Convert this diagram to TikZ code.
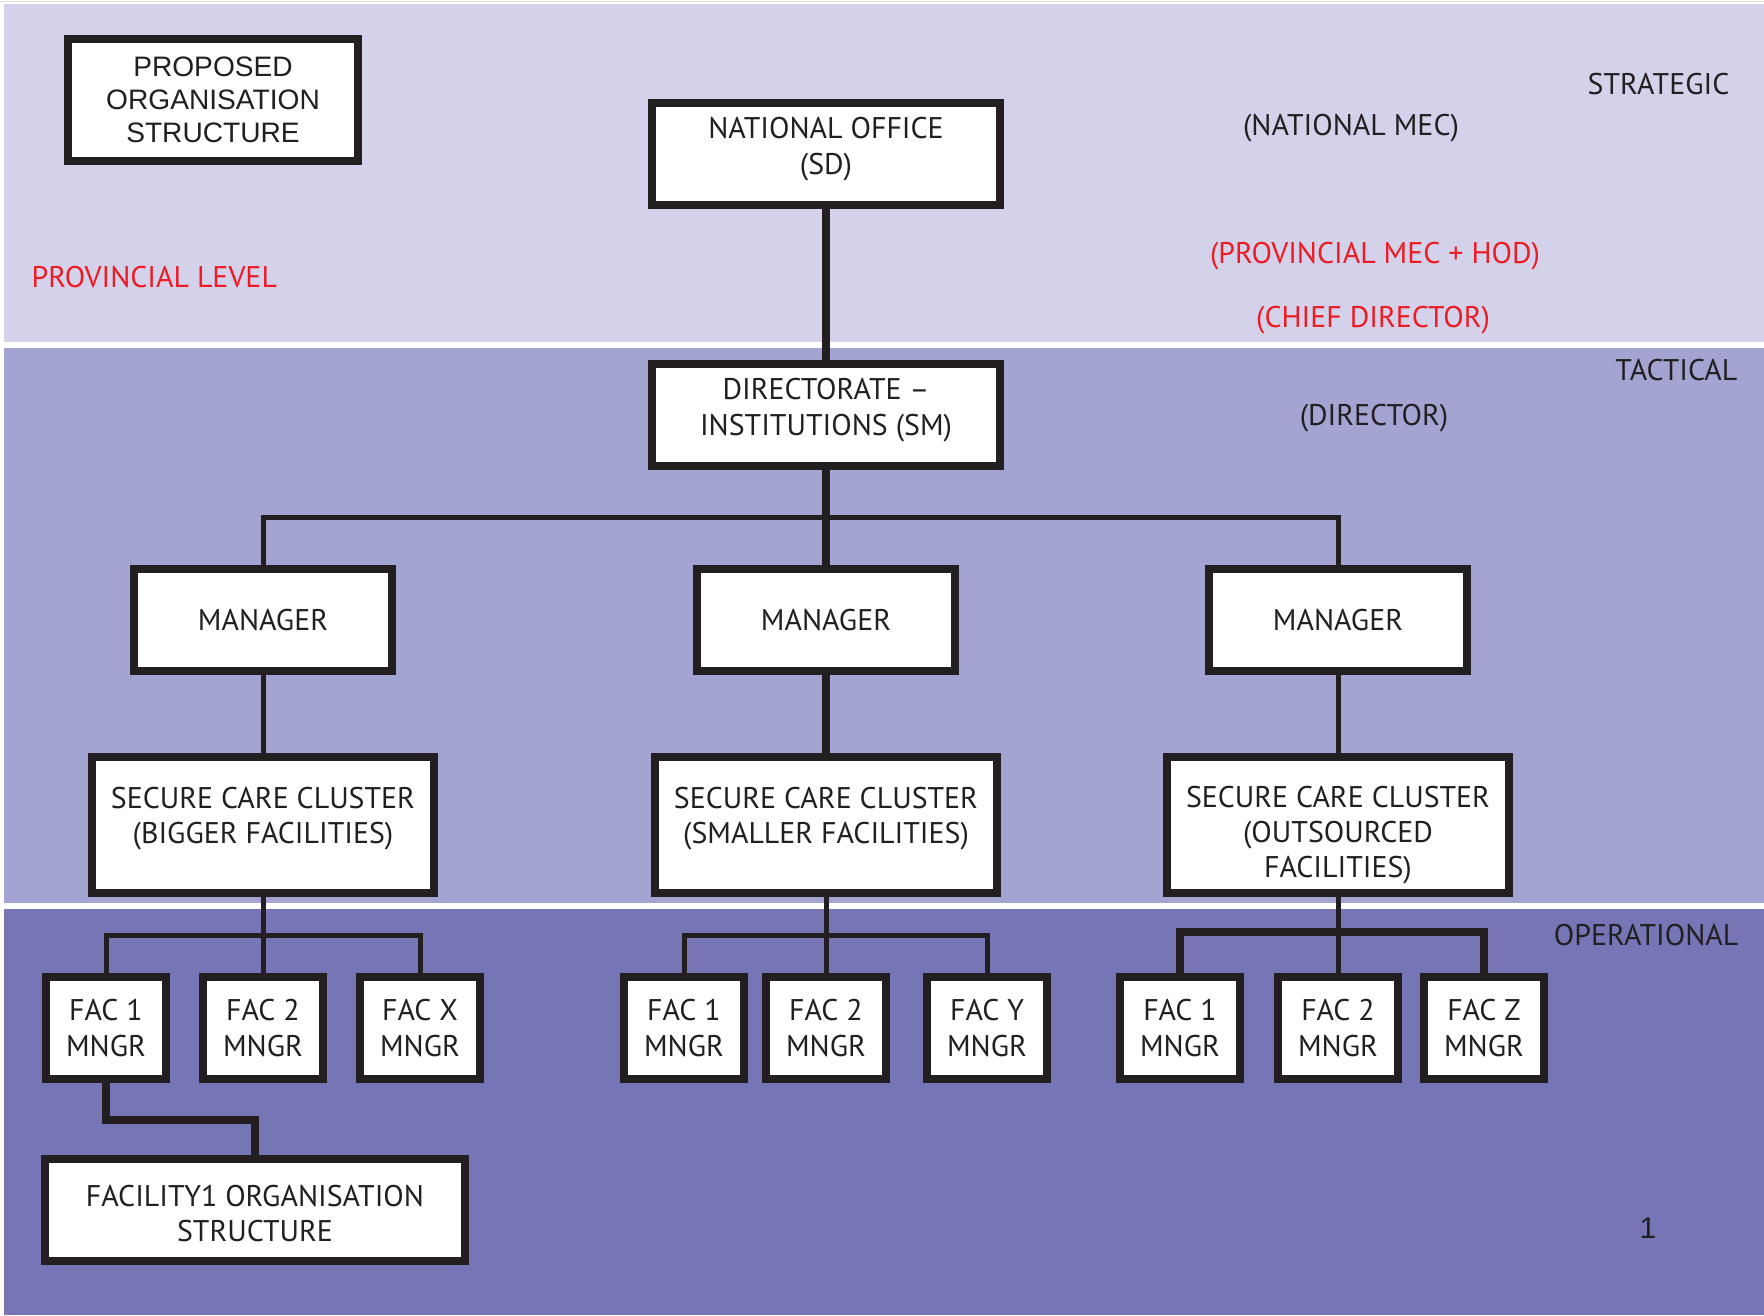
\documentclass[tikz,border=0pt]{standalone}
\usepackage{fontspec}
\setmainfont{PT Sans}
\newfontfamily\arialfont{Liberation Sans}
\usetikzlibrary{calc}
\definecolor{bandtop}{HTML}{D3D2EA}
\definecolor{bandmid}{HTML}{A4A4D2}
\definecolor{bandlow}{HTML}{7675B5}
\definecolor{inkred}{HTML}{ED1C24}
\definecolor{ink}{HTML}{231F20}
% move box text up or down, keep the box size
\newcommand{\shifted}[2]{\raisebox{#1}[\height][\depth]{\begin{tabular}{@{}c@{}}#2\end{tabular}}}

\begin{document}
\begin{tikzpicture}[x=0.01cm, y=-0.01cm,
  box/.style={draw=ink, fill=white, line width=0.08cm, align=center, inner sep=0pt,
    text=ink, font=\fontsize{8.5}{10}\selectfont},
  topbox/.style={box, minimum width=3.47cm, minimum height=1.02cm},
  mgrbox/.style={box, minimum width=2.57cm, minimum height=1.01cm},
  clbox/.style={box, minimum width=3.41cm, minimum height=1.36cm},
  facbox/.style={box, minimum width=1.20cm, minimum height=1.02cm},
  lvl/.style={text=ink, inner sep=0pt, font=\fontsize{8.5}{10}\selectfont},
  redlvl/.style={lvl, text=inkred},
  thickln/.style={draw=ink, line width=0.08cm},
  thinln/.style={draw=ink, line width=0.05cm}]
\useasboundingbox (0,0) rectangle (1764,1315);
% bands
\fill[white] (0,0) rectangle (1764,1315);
\draw[ink!15, line width=0.015cm] (0,1.5) -- (1764,1.5);
\fill[bandtop] (4,4) rectangle (1764,342);
\fill[bandmid] (4,348) rectangle (1764,903);
\fill[bandlow] (4,909) rectangle (1764,1315);

% level labels
\node[lvl, anchor=east] (strat) at (1730,84) {STRATEGIC};
\node[lvl, anchor=east] (tact) at (1738,370) {TACTICAL};
\node[lvl, anchor=east] (oper) at (1739,935) {OPERATIONAL};
\node[lvl] (natmec) at (1351,128) {(NATIONAL MEC)};
\node[redlvl] (provmec) at (1375,256) {(PROVINCIAL MEC + HOD)};
\node[redlvl] (chief) at (1373,320) {(CHIEF DIRECTOR)};
\node[lvl] (director) at (1374,418) {(DIRECTOR)};
\node[redlvl, anchor=west] (provlvl) at (31,277) {PROVINCIAL LEVEL};
\node[lvl, font=\arialfont\fontsize{8.5}{10}\selectfont] (pagenum) at (1648,1228) {1};

% boxes
\node[box, minimum width=2.90cm, minimum height=1.21cm, font=\arialfont\fontsize{8}{9.4}\selectfont]
  (proposed) at (213,100) {PROPOSED\\ORGANISATION\\STRUCTURE};
\node[topbox] (nat) at (826,154) {\shifted{1.3pt}{NATIONAL OFFICE\\(SD)}};
\node[topbox] (dir) at (826,415) {\shifted{1.3pt}{DIRECTORATE --\\INSTITUTIONS (SM)}};
\node[mgrbox] (mgr1) at (263,620) {MANAGER};
\node[mgrbox] (mgr2) at (826,620) {MANAGER};
\node[mgrbox] (mgr3) at (1338,620) {MANAGER};
\node[clbox] (cl1) at (263,825) {\shifted{1.7pt}{SECURE CARE CLUSTER\\(BIGGER FACILITIES)}};
\node[clbox] (cl2) at (826,825) {\shifted{1.7pt}{SECURE CARE CLUSTER\\(SMALLER FACILITIES)}};
\node[clbox] (cl3) at (1338,825) {\shifted{-3pt}{SECURE CARE CLUSTER\\(OUTSOURCED\\FACILITIES)}};
\node[facbox] (f11) at (106,1028) {FAC 1\\MNGR};
\node[facbox] (f12) at (263,1028) {FAC 2\\MNGR};
\node[facbox] (f13) at (420,1028) {FAC X\\MNGR};
\node[facbox] (f21) at (684,1028) {FAC 1\\MNGR};
\node[facbox] (f22) at (826,1028) {FAC 2\\MNGR};
\node[facbox] (f23) at (987,1028) {FAC Y\\MNGR};
\node[facbox] (f31) at (1180,1028) {FAC 1\\MNGR};
\node[facbox] (f32) at (1338,1028) {FAC 2\\MNGR};
\node[facbox] (f33) at (1484,1028) {FAC Z\\MNGR};
\node[box, minimum width=4.19cm, minimum height=1.02cm] (facorg) at (255,1210)
  {\shifted{-2pt}{FACILITY1 ORGANISATION\\STRUCTURE}};

% connectors
\coordinate (busmgr) at (826,517);
\coordinate (busl) at (263,935);
\coordinate (busm) at (826,935);
\coordinate (busr) at (1338,932);
\coordinate (kink) at (255,1120);
\draw[thickln] (nat.south) -- (dir.north);
\draw[thickln] (dir.south) -- (mgr2.north);
\draw[thinln] (mgr1.north) |- (busmgr) -| (mgr3.north);
\draw[thinln] (mgr1.south) -- (cl1.north);
\draw[thickln] (mgr2.south) -- (cl2.north);
\draw[thinln] (mgr3.south) -- (cl3.north);
\draw[thinln] (f11.north) |- (busl) -| (f13.north);
\draw[thinln] (cl1.south) -- (f12.north);
\draw[thinln] (f21.north) |- (busm) -| (f23.north);
\draw[thinln] (cl2.south) -- (f22.north);
\draw[thickln] (f31.north) |- (busr) -| (f33.north);
\draw[thinln] (cl3.south) -- (f32.north);
\draw[thickln] (f11.south) |- (kink) -- (facorg.north);
\end{tikzpicture}
\end{document}
